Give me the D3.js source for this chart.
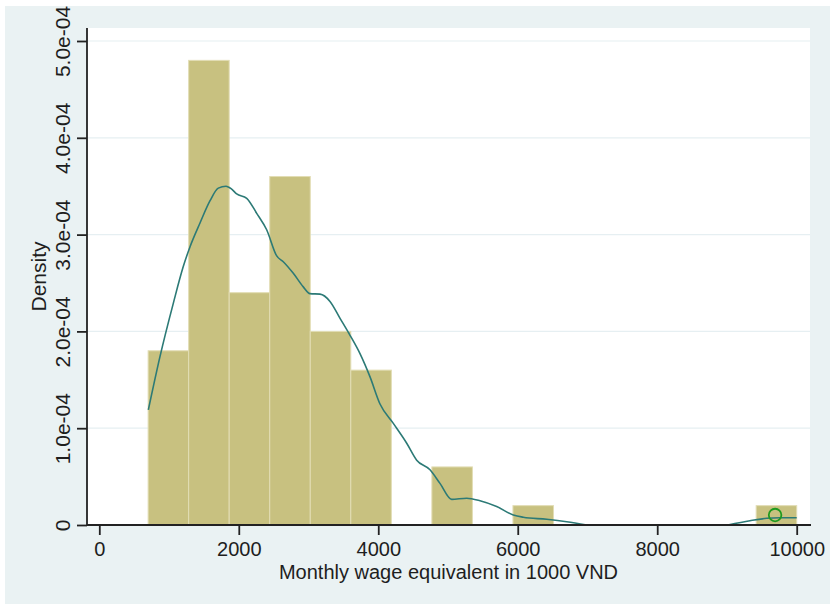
<!DOCTYPE html>
<html>
<head>
<meta charset="utf-8">
<script src="https://cdn.jsdelivr.net/npm/d3@7/dist/d3.min.js"></script>
<style>
  html, body { margin: 0; padding: 0; background: #ffffff; }
  svg { display: block; }
  text { font-family: "Liberation Sans", Arial, sans-serif; fill: #1e1e1e; }
</style>
</head>
<body>
<svg id="chart" width="830" height="606"></svg>
<script>
// Histogram bin edges (1000 VND)
const binEdges = [700, 1281.25, 1862.5, 2443.75, 3025, 3606.25, 4187.5, 4768.75,
                  5350, 5931.25, 6512.5, 7093.75, 7675, 8256.25, 8837.5, 9418.75, 10000];
// Density of each bin
const binDensity = [1.8e-4, 4.8e-4, 2.4e-4, 3.6e-4, 2.0e-4, 1.6e-4, 0, 0.6e-4,
                    0, 0.2e-4, 0, 0, 0, 0, 0, 0.2e-4];

// Kernel density estimate: wage values and density
const kdeX = [703, 870, 1061, 1204, 1301, 1444, 1588, 1706, 1817, 1898, 1970, 2114, 2257,
              2400, 2544, 2638, 2782, 2925, 3021, 3165, 3308, 3452, 3595, 3738, 3882, 4025,
              4216, 4408, 4551, 4742, 4885, 5053, 5268, 5459, 5698, 5936, 6080, 6415, 6702,
              6989, 9013, 9330, 9570, 9761, 10000];
const kdeY = [1.19e-4, 1.74e-4, 2.29e-4, 2.67e-4, 2.875e-4, 3.12e-4, 3.35e-4, 3.48e-4, 3.50e-4,
              3.47e-4, 3.42e-4, 3.375e-4, 3.22e-4, 3.05e-4, 2.78e-4, 2.72e-4, 2.60e-4, 2.46e-4,
              2.39e-4, 2.385e-4, 2.31e-4, 2.135e-4, 1.96e-4, 1.77e-4, 1.53e-4, 1.25e-4, 1.05e-4,
              0.845e-4, 0.67e-4, 0.57e-4, 0.43e-4, 0.265e-4, 0.276e-4, 0.25e-4, 0.19e-4,
              0.103e-4, 0.08e-4, 0.059e-4, 0.034e-4, 0, 0, 0.044e-4, 0.069e-4, 0.075e-4, 0.075e-4];

// Highlighted observation
const markerX = [9690];
const markerY = [0.103e-4];

// Axis ticks
const xTicks = [0, 2000, 4000, 6000, 8000, 10000];
const xTickLabels = ["0", "2000", "4000", "6000", "8000", "10000"];
const yTicks = [0, 1e-4, 2e-4, 3e-4, 4e-4, 5e-4];
const yTickLabels = ["0", "1.0e-04", "2.0e-04", "3.0e-04", "4.0e-04", "5.0e-04"];

const xTitle = "Monthly wage equivalent in 1000 VND";
const yTitle = "Density";

const svg = d3.select("#chart");
const plot = { left: 87, right: 810, top: 28, bottom: 525 };

const x = d3.scaleLinear().domain([0, 10000]).range([99.3, 796.7]);
const y = d3.scaleLinear().domain([0, 5e-4]).range([plot.bottom, 41]);

// Outer graph region
svg.append("rect")
  .attr("x", 5).attr("y", 6).attr("width", 825).attr("height", 598)
  .attr("fill", "#eaf2f3");

// Plot region
svg.append("rect")
  .attr("x", plot.left).attr("y", plot.top)
  .attr("width", plot.right - plot.left).attr("height", plot.bottom - plot.top)
  .attr("fill", "#ffffff");

// Horizontal grid lines
svg.append("g")
  .selectAll("line")
  .data(yTicks.filter(d => d > 0))
  .join("line")
  .attr("x1", plot.left).attr("x2", plot.right)
  .attr("y1", d => y(d)).attr("y2", d => y(d))
  .attr("stroke", "#e6eff2").attr("stroke-width", 1.2);

// Histogram bars
svg.append("g")
  .selectAll("rect")
  .data(binDensity.map((d, i) => ({ x0: binEdges[i], x1: binEdges[i + 1], d })).filter(b => b.d > 0))
  .join("rect")
  .attr("x", b => x(b.x0))
  .attr("width", b => x(b.x1) - x(b.x0))
  .attr("y", b => y(b.d))
  .attr("height", b => y(0) - y(b.d))
  .attr("fill", "#c8c180")
  .attr("stroke", "#e2ddb4")
  .attr("stroke-width", 1);

// Kernel density curve, split where the estimate stays at zero
const kde = kdeX.map((v, i) => [v, kdeY[i]]);
const kdeSegments = [];
let seg = [];
kde.forEach((p, i) => {
  seg.push(p);
  const next = kde[i + 1];
  if (next && p[1] === 0 && next[1] === 0) { kdeSegments.push(seg); seg = []; }
});
kdeSegments.push(seg);

svg.append("g")
  .selectAll("path")
  .data(kdeSegments)
  .join("path")
  .attr("d", d3.line().x(d => x(d[0])).y(d => Math.min(y(d[1]), plot.bottom)).curve(d3.curveMonotoneX))
  .attr("fill", "none")
  .attr("stroke", "#2c7a76")
  .attr("stroke-width", 1.6);

// Marker
svg.append("g")
  .selectAll("circle")
  .data(markerX.map((v, i) => [v, markerY[i]]))
  .join("circle")
  .attr("cx", d => x(d[0])).attr("cy", d => y(d[1]))
  .attr("r", 6.3)
  .attr("fill", "none")
  .attr("stroke", "#1f9a1f")
  .attr("stroke-width", 1.8);

// Y axis
const yAxis = svg.append("g")
  .attr("transform", `translate(${plot.left},0)`)
  .call(d3.axisLeft(y).tickValues(yTicks).tickSize(10).tickSizeOuter(0)
    .tickFormat((d, i) => yTickLabels[i]));
yAxis.select(".domain").attr("d", `M0,${plot.bottom}V${plot.top}`)
  .attr("stroke", "#222").attr("stroke-width", 1.8);
yAxis.selectAll(".tick line").attr("stroke", "#222").attr("stroke-width", 1.8);
yAxis.selectAll(".tick text")
  .attr("transform", "rotate(-90)")
  .attr("x", 0).attr("y", -17).attr("dy", null)
  .attr("text-anchor", "middle")
  .style("font-size", "21px")
  .style("font-family", "Liberation Sans, Arial, sans-serif")
  .attr("fill", "#1e1e1e");

// X axis
const xAxis = svg.append("g")
  .attr("transform", `translate(0,${plot.bottom})`)
  .call(d3.axisBottom(x).tickValues(xTicks).tickSize(10).tickSizeOuter(0)
    .tickFormat((d, i) => xTickLabels[i]));
xAxis.select(".domain").attr("d", `M${plot.left},0H${plot.right + 1}`)
  .attr("stroke", "#222").attr("stroke-width", 1.8);
xAxis.selectAll(".tick line").attr("stroke", "#222").attr("stroke-width", 1.8);
xAxis.selectAll(".tick text")
  .attr("y", 31).attr("dy", null)
  .style("font-size", "20px")
  .style("font-family", "Liberation Sans, Arial, sans-serif")
  .attr("fill", "#1e1e1e");

// Axis titles
svg.append("text")
  .attr("x", (plot.left + plot.right) / 2)
  .attr("y", 579)
  .attr("text-anchor", "middle")
  .style("font-size", "20px")
  .text(xTitle);

svg.append("text")
  .attr("transform", `translate(46,${(plot.top + plot.bottom) / 2}) rotate(-90)`)
  .attr("text-anchor", "middle")
  .style("font-size", "21px")
  .text(yTitle);
</script>
</body>
</html>
